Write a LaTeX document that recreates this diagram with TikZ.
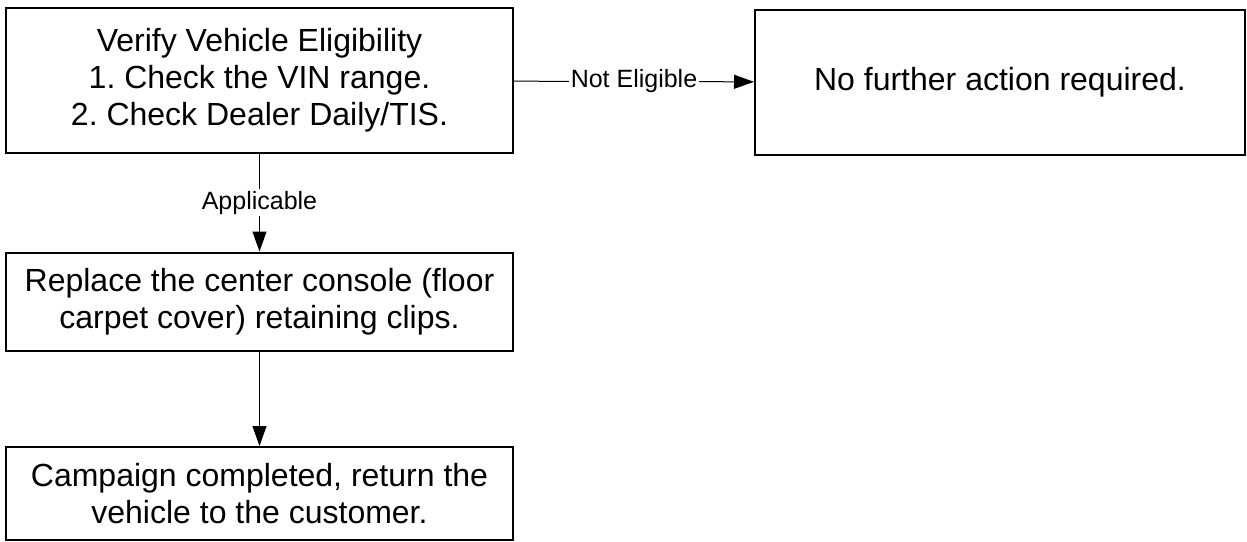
\documentclass[tikz,border=0pt]{standalone}
\usepackage{fontspec}
\setmainfont{Liberation Sans}
\usepackage{tikz}
\usetikzlibrary{arrows.meta}
\frenchspacing

\begin{document}
\begin{tikzpicture}[x=0.75pt,y=0.75pt,yscale=-1,xscale=1,
    stepbox/.style={draw,line width=1.5pt,align=center,inner sep=0.75pt,
        font=\fontsize{24}{27.75}\selectfont},
    flowline/.style={line width=0.75pt,-{Triangle[length=15pt,width=10.5pt]}},
    flowlabel/.style={fill=white,inner sep=1.5pt,font=\fontsize{18.75}{22}\selectfont}]
            \useasboundingbox (0,0) rectangle (1247,542);

            %Shape: Rectangle [verify]
            \node [stepbox,minimum width=380.25pt,minimum height=108.75pt] (verify) at (259.5,80.5)
                {Verify Vehicle Eligibility\\1. Check the VIN range.\\2. Check Dealer Daily/TIS.};
            %Shape: Rectangle [noaction]
            \node [stepbox,minimum width=367.5pt,minimum height=108.75pt] (noaction) at (1000,82.5)
                {No further action required.};
            %Shape: Rectangle [replace]
            \node [stepbox,minimum width=380.25pt,minimum height=73.5pt] (replace) at (259.5,301.5)
                {Replace the center console (floor\\carpet cover) retaining clips.};
            %Shape: Rectangle [done]
            \node [stepbox,minimum width=380.25pt,minimum height=69.75pt] (done) at (259.5,493.5)
                {Campaign completed, return the\\vehicle to the customer.};

            %Straight Lines with labels
            \draw [flowline] (verify) -- node [flowlabel] {Not Eligible} (noaction);
            \draw [flowline] (verify) -- node [flowlabel] {Applicable} (replace);
            \draw [flowline] (replace) -- (done);

\end{tikzpicture}
\end{document}
